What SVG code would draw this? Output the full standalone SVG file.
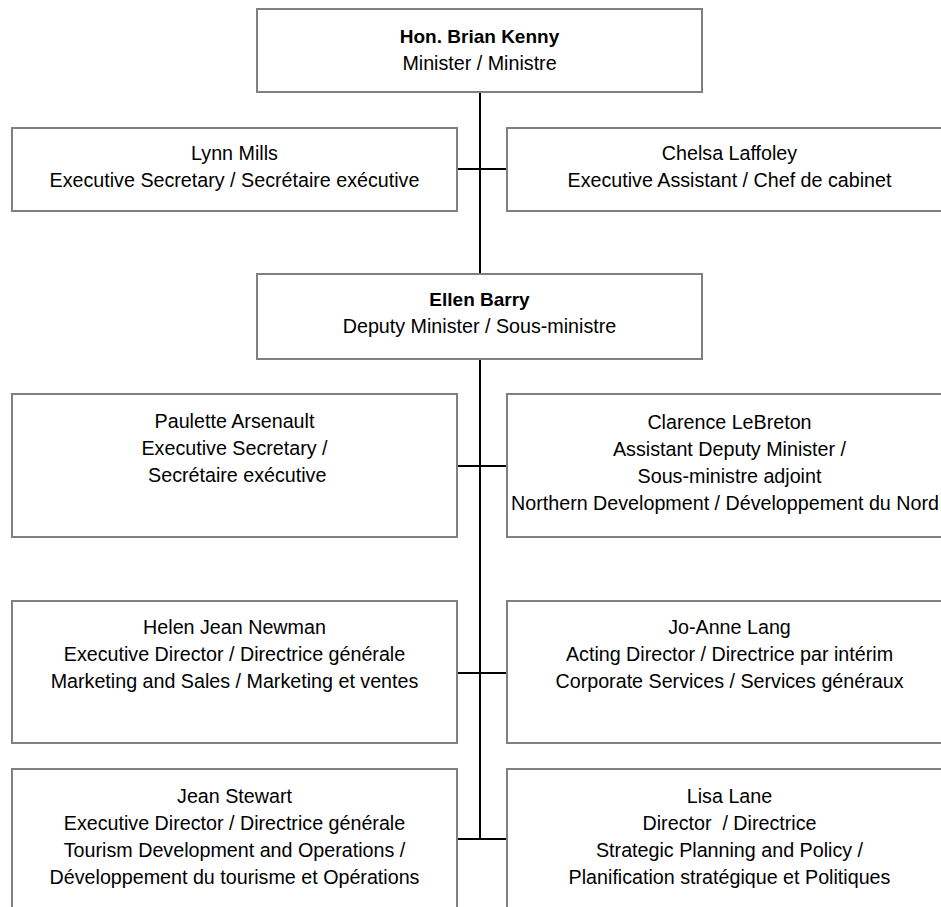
<svg xmlns="http://www.w3.org/2000/svg" width="941" height="907" viewBox="0 0 941 907">
<style>
.box{fill:#fff;stroke:#808080;stroke-width:2}
.t{font-family:"Liberation Sans",Arial,sans-serif;font-size:19.7px;fill:#000;text-anchor:middle}
.b{font-weight:bold;font-size:19px}
.c{stroke:#000;stroke-width:2;fill:none}
</style>
<rect width="941" height="907" fill="#fff"/>
<g id="connectors">
<path class="c" d="M480 92V274M480 359V839M457 169H507M457 466H507M457 673H507M457 839H507"/>
</g>
<g id="minister">
<rect class="box" x="257" y="9" width="445" height="83"/>
<text class="t b" x="479.5" y="43">Hon. Brian Kenny</text>
<text class="t" x="479.5" y="70">Minister / Ministre</text>
</g>
<g id="lynn">
<rect class="box" x="12" y="128" width="445" height="83"/>
<text class="t" x="234.5" y="160">Lynn Mills</text>
<text class="t" x="234.5" y="187">Executive Secretary / Secrétaire exécutive</text>
</g>
<g id="chelsa">
<rect class="box" x="507" y="128" width="445" height="83"/>
<text class="t" x="729.5" y="160">Chelsa Laffoley</text>
<text class="t" x="729.5" y="187">Executive Assistant / Chef de cabinet</text>
</g>
<g id="ellen">
<rect class="box" x="257" y="274" width="445" height="85"/>
<text class="t b" x="479.5" y="306">Ellen Barry</text>
<text class="t" x="479.5" y="333">Deputy Minister / Sous-ministre</text>
</g>
<g id="paulette">
<rect class="box" x="12" y="394" width="445" height="143"/>
<text class="t" x="234.5" y="428">Paulette Arsenault</text>
<text class="t" x="234.5" y="455">Executive Secretary /</text>
<text class="t" x="234.5" y="482" xml:space="preserve"> Secrétaire exécutive</text>
</g>
<g id="clarence">
<rect class="box" x="507" y="394" width="445" height="143"/>
<text class="t" x="729.5" y="429">Clarence LeBreton</text>
<text class="t" x="729.5" y="456">Assistant Deputy Minister /</text>
<text class="t" x="729.5" y="483">Sous-ministre adjoint</text>
<text class="t" x="725" y="510">Northern Development / Développement du Nord</text>
</g>
<g id="helen">
<rect class="box" x="12" y="601" width="445" height="142"/>
<text class="t" x="234.5" y="634">Helen Jean Newman</text>
<text class="t" x="234.5" y="661">Executive Director / Directrice générale</text>
<text class="t" x="234.5" y="688">Marketing and Sales / Marketing et ventes</text>
</g>
<g id="jo-anne">
<rect class="box" x="507" y="601" width="445" height="142"/>
<text class="t" x="729.5" y="634">Jo-Anne Lang</text>
<text class="t" x="729.5" y="661">Acting Director / Directrice par intérim</text>
<text class="t" x="729.5" y="688">Corporate Services / Services généraux</text>
</g>
<g id="jean">
<rect class="box" x="12" y="769" width="445" height="160"/>
<text class="t" x="234.5" y="803">Jean Stewart</text>
<text class="t" x="234.5" y="830">Executive Director / Directrice générale</text>
<text class="t" x="234.5" y="857">Tourism Development and Operations /</text>
<text class="t" x="234.5" y="884">Développement du tourisme et Opérations</text>
</g>
<g id="lisa">
<rect class="box" x="507" y="769" width="445" height="160"/>
<text class="t" x="729.5" y="803">Lisa Lane</text>
<text class="t" x="729.5" y="830" xml:space="preserve">Director  / Directrice</text>
<text class="t" x="729.5" y="857">Strategic Planning and Policy /</text>
<text class="t" x="729.5" y="884">Planification stratégique et Politiques</text>
</g>
</svg>
